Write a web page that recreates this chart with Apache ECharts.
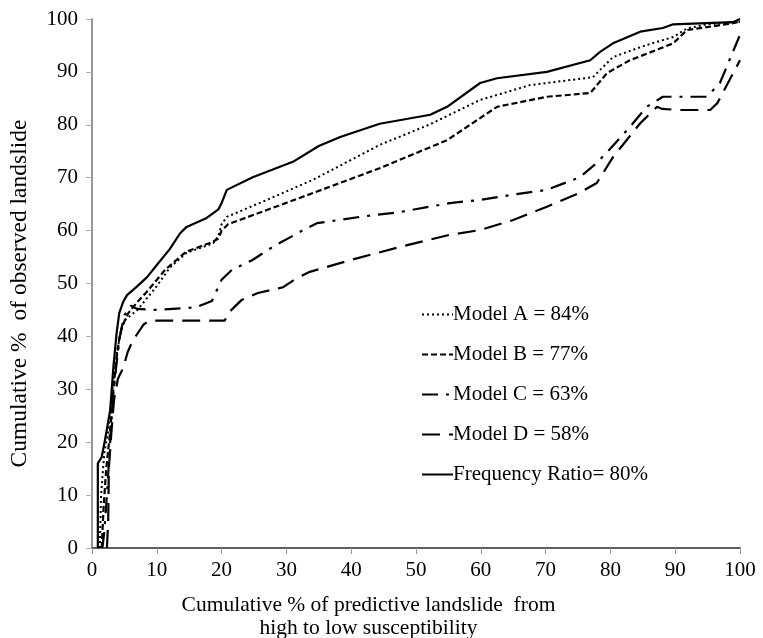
<!DOCTYPE html>
<html>
<head>
<meta charset="utf-8">
<script src="https://cdn.jsdelivr.net/npm/echarts@6/dist/echarts.min.js"></script>
<style>html,body{margin:0;padding:0;background:#fff}#c{width:763px;height:638px}</style>
</head>
<body>
<div id="c"></div>
<script>
const seriesNames = ['Model A = 84%', 'Model B = 77%', 'Model C = 63%', 'Model D = 58%', 'Frequency Ratio= 80%'];
const xTicks = [0, 10, 20, 30, 40, 50, 60, 70, 80, 90, 100];

const modelA = [[1.2,0],[1.4,10],[1.9,18],[2.5,22],[3,28],[3.5,34],[4,38],[4.5,41],[5,43],[6,44],[7,45],[8,46.5],[10,49.5],[12,53],[14.6,55.8],[18.7,57.6],[19.5,59],[20,61.2],[20.8,62.6],[27,65.8],[34.1,69.6],[44.4,76.2],[52,80],[59.9,84.7],[67.6,87.5],[77.3,89],[80.4,92.8],[85.6,95.1],[89.7,96.6],[91.8,98.2],[95,99],[100,99.5]];
const modelB = [[1.5,0],[1.8,8],[2.2,15],[2.8,22],[3.3,30],[3.8,36],[4.2,39.5],[4.6,41.8],[5.6,44.4],[7,46.5],[8.5,48.5],[11.3,52.6],[14.5,56],[18.5,57.8],[19.5,58.5],[20,60],[21,61.2],[27,63.9],[34.1,67.1],[44.4,71.8],[54.8,77.1],[62.5,83.4],[70.2,85.3],[76.9,86],[79.5,89.8],[83,92.2],[89.7,95.4],[91.8,97.9],[98.9,99.2],[100,99.5]];
const modelC = [[1.6,0],[1.9,3],[2.3,10],[2.8,20],[3.2,28],[3.8,35],[4.3,40],[5,44],[6,45.8],[7,45.2],[10,45],[16,45.5],[18.5,46.7],[20,50.7],[21.6,52.6],[24.7,54.4],[28,57],[32.6,60.1],[34.7,61.4],[41.4,62.6],[47.5,63.5],[55.2,65.2],[59.9,65.8],[65,66.8],[70.2,67.7],[75.3,70.1],[77.9,72.8],[80,75.5],[83,79.6],[85.6,83.4],[88.1,85.3],[94.9,85.3],[96.9,87.9],[100,97]];
const modelD = [[2.3,0],[2.5,5],[2.6,15],[3,22],[3.4,28],[4,32],[4.8,34],[5.5,37],[6.2,39],[7,40.5],[8,42.3],[9,43],[20.5,43],[21,44.4],[23.1,46.9],[25.6,48.2],[29.5,49.3],[31.6,51],[33.6,52.2],[39.8,54.4],[47.5,56.9],[55.2,59.2],[59.9,60.1],[65,62],[70.2,64.5],[75,67],[77.9,69],[80.4,73.9],[84.6,80.3],[87.2,83.4],[88,83],[90.7,82.8],[95.4,82.8],[96.5,84.1],[100,92.2]];
const freqRatio = [[0.9,0],[0.9,16],[1.5,17.2],[2,20.4],[2.8,26],[3.3,34.2],[3.8,40.6],[4.2,44.4],[4.8,46.5],[5.4,47.8],[7,49.5],[8.5,51.2],[10,53.5],[12,56.5],[13.6,59.5],[14.6,60.7],[17.7,62.4],[19.5,64],[20,65.2],[20.8,67.7],[24.8,70.1],[31,73],[35,76],[38.3,77.7],[44.4,80.2],[52.2,81.9],[54.8,83.4],[59.9,87.9],[62.5,88.8],[70.2,90],[76.9,92.2],[78.4,93.8],[80.4,95.4],[84.6,97.6],[88.1,98.3],[89.7,99],[98.9,99.4],[100,100]];

const FONT = '"Liberation Serif", "Times New Roman", serif';
const chart = echarts.init(document.getElementById('c'), null, {renderer: 'canvas'});

function mk(name, data, type, width) {
  return {
    name: name, type: 'line', data: data, symbol: 'none', showSymbol: false, smooth: false,
    legendIcon: 'rect',
    lineStyle: {color: '#000', width: width, type: type},
    itemStyle: {color: '#000'},
    animation: false, z: 3
  };
}

chart.setOption({
  animation: false,
  backgroundColor: '#fff',
  grid: {left: 92, right: 23, top: 19, bottom: 90, containLabel: false, outerBoundsMode: 'none'},
  legend: {
    orient: 'vertical', left: 416, top: 299,
    itemWidth: 31, itemHeight: 14, itemGap: 19,
    data: seriesNames,
    itemStyle: {opacity: 0},
    textStyle: {fontFamily: FONT, fontSize: 21, color: '#000', padding: [0,0,0,-5]},
    selectedMode: false
  },
  xAxis: [{
    type: 'value', min: 0, max: 100, interval: 10, position: 'bottom',
    name: 'Cumulative % of predictive landslide  from\nhigh to low susceptibility',
    nameLocation: 'middle', nameGap: 46,
    nameTextStyle: {fontFamily: FONT, fontSize: 21.5, color: '#000', lineHeight: 23, padding: [0, 95, 0, 0]},
    axisLine: {show: true, lineStyle: {color: '#999', width: 1.5}},
    axisTick: {show: true, length: 6, lineStyle: {color: '#999'}},
    axisLabel: {fontFamily: FONT, fontSize: 21, color: '#000', margin: 12},
    splitLine: {show: false}
  }, {
    type: 'value', min: 0, max: 100, position: 'top',
    axisLine: {show: true, lineStyle: {color: '#444', width: 1.5}},
    axisTick: {show: false}, axisLabel: {show: false}, splitLine: {show: false}
  }],
  yAxis: [{
    type: 'value', min: 0, max: 100, interval: 10, position: 'left',
    name: 'Cumulative %  of observed landslide',
    nameLocation: 'middle', nameGap: 60, nameRotate: 90,
    nameTextStyle: {fontFamily: FONT, fontSize: 23.5, color: '#000', padding: [0, 20, 0, 0]},
    axisLine: {show: true, lineStyle: {color: '#aaa', width: 1.5}},
    axisTick: {show: true, length: 6, lineStyle: {color: '#aaa'}},
    axisLabel: {fontFamily: FONT, fontSize: 21, color: '#000', margin: 14},
    splitLine: {show: false}
  }, {
    type: 'value', min: 0, max: 100, position: 'right',
    axisLine: {show: true, lineStyle: {color: '#888', width: 1.5}},
    axisTick: {show: false}, axisLabel: {show: false}, splitLine: {show: false}
  }],
  series: [
    mk(seriesNames[0], modelA, [2, 3], 2),
    mk(seriesNames[1], modelB, [6, 3], 2.2),
    mk(seriesNames[2], modelC, [16, 8, 3, 8], 2.2),
    mk(seriesNames[3], modelD, [18, 9], 2.2),
    mk(seriesNames[4], freqRatio, 'solid', 2.2)
  ]
});
</script>
</body>
</html>
